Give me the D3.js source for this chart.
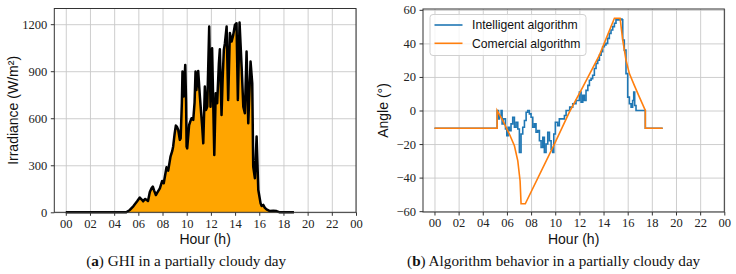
<!DOCTYPE html>
<html><head><meta charset="utf-8">
<script src="https://cdn.jsdelivr.net/npm/d3@7"></script>
<style>
body{margin:0;background:#fff;}
svg{display:block;}
.tick text{font-family:"Liberation Serif",serif;font-size:12.5px;fill:#222;}
.lbl{font-family:"Liberation Sans",sans-serif;font-size:14px;fill:#111;}
.cap{font-family:"Liberation Serif",serif;font-size:15.2px;fill:#111;}
.leg{font-family:"Liberation Sans",sans-serif;font-size:12.2px;fill:#111;}
</style></head><body>
<script>
// ---------- data ----------
const hourTicks = [0,2,4,6,8,10,12,14,16,18,20,22,24];
const ghiTicks = [0,300,600,900,1200];
const angleTicks = [-60,-40,-20,0,20,40,60];

const ghiHour = [0,5.0,5.3,5.6,5.9,6.12,6.3,6.4,6.55,6.68,6.8,6.95,7.1,7.2,7.3,7.45,7.6,7.78,7.97,8.1,8.2,8.33,8.47,8.66,8.8,8.88,9.0,9.1,9.2,9.3,9.43,9.5,9.6,9.65,9.74,9.82,9.88,9.95,9.99,10.04,10.2,10.3,10.4,10.54,10.65,10.73,10.8,10.95,11.09,11.28,11.37,11.5,11.59,11.7,11.86,11.97,12.1,12.28,12.4,12.52,12.66,12.74,12.88,12.97,13.07,13.16,13.3,13.43,13.57,13.71,13.85,13.99,14.12,14.23,14.37,14.54,14.68,14.81,14.95,15.09,15.28,15.42,15.5,15.64,15.78,15.92,16.11,16.2,16.33,16.45,16.6,16.88,17.16,17.43,17.7,18.87];
const ghiValue = [0,0,15,40,70,94,80,70,85,80,72,130,155,164,140,110,130,153,200,185,230,287,266,355,390,420,500,553,545,525,462,472,700,898,738,850,940,700,419,408,557,580,600,589,700,898,780,902,738,547,440,802,653,674,1185,674,1047,366,760,696,951,1040,621,845,1036,1079,1185,717,1143,1089,1132,1196,1206,717,1210,930,674,632,1025,568,962,823,291,217,483,142,57,40,47,30,19,8,10,8,0,0];

const comHour  = [0,5.19,5.19,5.66,6.2,6.62,6.9,7.09,7.17,7.52,9.93,11.17,12.28,13.66,14.9,15.37,15.59,15.86,16.14,16.55,16.97,17.46,17.46,18.9];
const comAngle = [-10.6,-10.6,0,-6,-14,-21,-30,-42,-55.6,-55.6,-20,-1,14,33,55,55,42,30,22,15,8,0,-10.6,-10.6];

const intHour  = [0,5.19,5.3,5.38,5.52,5.6,5.7,5.88,5.99,6.1,6.2,6.34,6.48,6.62,6.76,6.9,7.03,7.17,7.31,7.45,7.59,7.72,7.86,8.0,8.14,8.28,8.41,8.55,8.69,8.83,8.97,9.1,9.24,9.38,9.52,9.66,9.79,9.88,10.01,10.2,10.34,10.62,10.76,10.9,11.2,11.45,11.72,12.0,12.14,12.28,12.41,12.55,12.7,12.83,12.97,13.1,13.24,13.38,13.52,13.66,13.8,13.93,14.07,14.2,14.34,14.48,14.62,14.76,14.9,15.03,15.37,15.53,15.59,15.72,15.86,16.0,16.14,16.28,16.41,16.5,16.58,16.69,17.46,18.9];
const intAngle = [-10.6,0,-5,-3,0,-8,-5,-11,-15,-10,-12,-8,-4,-10,-7,-11,-25,-14,-10,-6,-1,0,-2,-4,-10,-8,-13,-12,-18,-22,-16,-25,-20,-13,-18,-23,-25,-14,-7,-9,-5,-5,-3,0,2,4,6,11,5,9,6,12,15,18,19,21,25,28,30,33,35,38,39,40,43,46,48,50,52,54,54.5,54,42,36,22,8,4,2,6,11,3,0,-10.6,-10.6];

// ---------- layout ----------
const svg = d3.select("body").append("svg").attr("width",736).attr("height",274);

function panel(cfg){
  const x = d3.scaleLinear().domain([-0.95,24]).range([cfg.left,cfg.right]);
  const y = d3.scaleLinear().domain(cfg.ydom).range([cfg.bottom,cfg.top]);
  const g = svg.append("g");
  // grid
  g.append("g").attr("transform",`translate(0,${cfg.bottom})`)
    .call(d3.axisBottom(x).tickValues(hourTicks).tickSize(-(cfg.bottom-cfg.top)).tickFormat(""))
    .call(s=>{s.select(".domain").remove();s.selectAll("line").attr("stroke","#c8c8c8").attr("stroke-width",0.9);});
  g.append("g").attr("transform",`translate(${cfg.left},0)`)
    .call(d3.axisLeft(y).tickValues(cfg.yticks).tickSize(-(cfg.right-cfg.left)).tickFormat(""))
    .call(s=>{s.select(".domain").remove();s.selectAll("line").attr("stroke","#c8c8c8").attr("stroke-width",0.9);});
  cfg.draw(g,x,y);
  // frame
  g.append("rect").attr("x",cfg.left).attr("y",cfg.top).attr("width",cfg.right-cfg.left).attr("height",cfg.bottom-cfg.top)
    .attr("fill","none").attr("stroke","#333").attr("stroke-width",1);
  // axes
  g.append("g").attr("transform",`translate(0,${cfg.bottom})`)
    .call(d3.axisBottom(x).tickValues(hourTicks).tickSize(3.5).tickPadding(3).tickFormat(d=>d3.format("02d")(d%24)))
    .call(s=>{s.select(".domain").remove();s.selectAll("line").attr("stroke","#333");});
  g.append("g").attr("transform",`translate(${cfg.left},0)`)
    .call(d3.axisLeft(y).tickValues(cfg.yticks).tickSize(3.5).tickPadding(3.5).tickFormat(cfg.yfmt))
    .call(s=>{s.select(".domain").remove();s.selectAll("line").attr("stroke","#333");});
  // labels
  const cx=(cfg.left+cfg.right)/2, cy=(cfg.top+cfg.bottom)/2;
  g.append("text").attr("class","lbl").attr("x",cx).attr("y",244).attr("text-anchor","middle").text("Hour (h)");
  g.append("text").attr("class","lbl").attr("transform",`translate(${cfg.ylx},${cy}) rotate(-90)`)
    .attr("text-anchor","middle").attr("dy","0.35em").text(cfg.ylabel);
  const cap = g.append("text").attr("class","cap").attr("x",cx+cfg.capdx).attr("y",266).attr("text-anchor","middle");
  cap.append("tspan").text("(");
  cap.append("tspan").attr("font-weight","bold").text(cfg.letter);
  cap.append("tspan").text(") "+cfg.caption);
}

panel({left:54.3,right:356,top:8.5,bottom:212.3,ydom:[0,1300],yticks:ghiTicks,
  yfmt:d=>String(d),ylabel:"Irradiance (W/m²)",ylx:13,letter:"a",capdx:-19,
  caption:"GHI in a partially cloudy day",
  draw:(g,x,y)=>{
    const pts = ghiHour.map((h,i)=>[h,ghiValue[i]]);
    g.append("path").datum(pts).attr("fill","#ffa500")
      .attr("d",d3.area().x(d=>x(d[0])).y0(y(0)).y1(d=>y(d[1])));
    g.append("path").datum(pts).attr("fill","none").attr("stroke","#000").attr("stroke-width",2.5)
      .attr("stroke-linejoin","round")
      .attr("d",d3.line().x(d=>x(d[0])).y(d=>y(d[1])));
  }});

panel({left:423,right:724.3,top:9,bottom:212,ydom:[-60.5,60.5],yticks:angleTicks,
  yfmt:d=>d<0?"\u2212"+Math.abs(d):String(d),ylabel:"Angle (°)",ylx:383,letter:"b",capdx:-20,
  caption:"Algorithm behavior in a partially cloudy day",
  draw:(g,x,y)=>{
    const line=d3.line().x(d=>x(d[0])).y(d=>y(d[1]));
    g.append("path").datum(intHour.map((h,i)=>[h,intAngle[i]])).attr("fill","none")
      .attr("stroke","#1f77b4").attr("stroke-width",1.6)
      .attr("d",d3.line().curve(d3.curveStepAfter).x(d=>x(d[0])).y(d=>y(d[1])));
    g.append("path").datum(comHour.map((h,i)=>[h,comAngle[i]])).attr("fill","none")
      .attr("stroke","#ff7f0e").attr("stroke-width",1.6).attr("d",line);
    // legend
    const lg=g.append("g");
    lg.append("rect").attr("x",430).attr("y",14.5).attr("width",156).attr("height",41).attr("rx",3)
      .attr("fill","#fff").attr("fill-opacity",0.8).attr("stroke","#d0d0d0").attr("stroke-width",1);
    [["Intelligent algorithm","#1f77b4",25],["Comercial algorithm","#ff7f0e",43.3]].forEach(([t,c,yy])=>{
      lg.append("line").attr("x1",434.5).attr("x2",462.5).attr("y1",yy).attr("y2",yy).attr("stroke",c).attr("stroke-width",1.6);
      lg.append("text").attr("class","leg").attr("x",472).attr("y",yy).attr("dy","0.35em").text(t);
    });
  }});
</script>
</body></html>
